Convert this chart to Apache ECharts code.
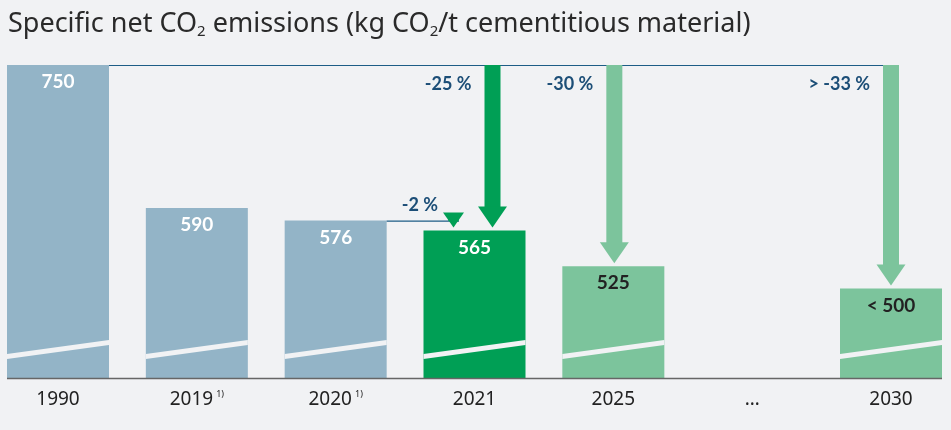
<!DOCTYPE html>
<html>
<head>
<meta charset="utf-8">
<script src="https://cdn.jsdelivr.net/npm/echarts@6/dist/echarts.min.js"></script>
<style>
  html, body { margin: 0; padding: 0; background: #f1f2f4; }
  #chart { width: 951px; height: 430px; }
</style>
</head>
<body>
<div id="chart"></div>
<script>
// Specific net CO2 emissions per tonne of cementitious material
const categories = ['1990', '2019', '2020', '2021', '2025', '…', '2030'];
const footnotes = ['', '1)', '1)', '', '', '', ''];
const values = [750, 590, 576, 565, 525, null, 500];
const valueLabels = ['750', '590', '576', '565', '525', '', '< 500'];

// reduction arrows: category, start value, end value, label
const arrowCats = [3, 3, 4, 6];
const arrowFrom = [576, 750, 750, 750];
const arrowTo = [565, 565, 525, 500];
const arrowLabels = ['-2 %', '-25 %', '-30 %', '> -33 %'];

const yMin = 400;
const yMax = 750;

const bg = '#f1f2f4';
const barColors = ['#93b4c7', '#93b4c7', '#93b4c7', '#009f55', '#7cc49c', null, '#7cc49c'];
const barLabelColors = ['#fff', '#fff', '#fff', '#fff', '#222', null, '#222'];
const arrowColors = ['#009f55', '#009f55', '#7cc49c', '#7cc49c'];
const arrowOffsets = [-21, 18, 1, 0];
const arrowSmall = [true, false, false, false];
const lineColor = '#1d5d86';
const pctColor = '#1c4e77';
const textFont = '"Noto Sans", sans-serif';
const barW = 102;

const chart = echarts.init(document.getElementById('chart'));

const barData = [];
values.forEach((v, i) => { if (v != null) barData.push([i, v]); });

function renderBar(params, api) {
  const i = api.value(0);
  const top = api.coord([i, api.value(1)]);
  const base = api.coord([i, yMin]);
  const x0 = top[0] - barW / 2;
  const b = base[1];
  return {
    type: 'group',
    children: [
      { type: 'rect', shape: { x: x0, y: top[1], width: barW, height: b - top[1] },
        style: { fill: barColors[i] } },
      { type: 'polygon', shape: { points: [[x0, b - 24], [x0 + barW, b - 38], [x0 + barW, b - 33], [x0, b - 19]] },
        style: { fill: bg } },
      { type: 'text', x: top[0], y: top[1] + 17,
        style: { text: valueLabels[i], fill: barLabelColors[i], align: 'center', verticalAlign: 'middle',
          font: 'bold 19px Lato' } }
    ]
  };
}

function renderArrow(params, api) {
  const k = params.dataIndex;
  const i = api.value(0);
  const start = api.coord([i, api.value(1)]);
  const end = api.coord([i, api.value(2)]);
  const cx = start[0] + arrowOffsets[k];
  const small = arrowSmall[k];
  const shaft = small ? 11 : 16;
  const head = small ? 21 : 29;
  const headLen = small ? 15 : 21;
  const tip = end[1] - 3;
  const col = arrowColors[k];
  return {
    type: 'group',
    children: [
      { type: 'rect', shape: { x: cx - shaft / 2, y: start[1], width: shaft, height: tip - headLen - start[1] + 1 },
        style: { fill: col } },
      { type: 'polygon', shape: { points: [[cx - head / 2, tip - headLen], [cx + head / 2, tip - headLen], [cx, tip]] },
        style: { fill: col } },
      { type: 'text', x: cx - shaft / 2 - (small ? 10 : 13), y: small ? start[1] - 15 : start[1] + 19,
        style: { text: arrowLabels[k], fill: pctColor, align: 'right', verticalAlign: 'middle',
          font: 'bold 18px Lato' } }
    ]
  };
}

// baseline and reference lines
function renderFrame(params, api) {
  const last = categories.length - 1;
  const b0 = api.coord([0, yMin]);
  const b1 = api.coord([last, yMin]);
  const r0 = api.coord([0, values[0]]);
  const r1 = api.coord([last, values[0]]);
  const s0 = api.coord([2, values[2]]);
  const s1 = api.coord([3, values[2]]);
  return {
    type: 'group',
    children: [
      { type: 'line', shape: { x1: b0[0] - barW / 2, y1: b0[1] + 0.5, x2: b1[0] + barW / 2, y2: b1[1] + 0.5 },
        style: { stroke: '#666', lineWidth: 1.5 } },
      { type: 'line', shape: { x1: r0[0] + barW / 2, y1: r0[1] + 0.5, x2: r1[0] + 8, y2: r1[1] + 0.5 },
        style: { stroke: lineColor, lineWidth: 1.2 } },
      { type: 'line', shape: { x1: s0[0] + barW / 2, y1: s0[1] + 0.5, x2: s1[0] + arrowOffsets[0] + 5.5, y2: s1[1] + 0.5 },
        style: { stroke: lineColor, lineWidth: 1.2 } }
    ]
  };
}

const option = {
  backgroundColor: bg,
  animation: false,
  title: {
    text: 'Specific net CO{sub|2} emissions (kg CO{sub|2}/t cementitious material)',
    left: 3,
    top: 4,
    textStyle: {
      fontFamily: textFont,
      fontSize: 27,
      fontWeight: 'normal',
      color: '#2a2a2a',
      rich: {
        sub: { fontFamily: textFont, fontSize: 15, color: '#2a2a2a', verticalAlign: 'top', padding: [15, 0, 0, 0] }
      }
    }
  },
  grid: { left: 58, right: 60, top: 65, bottom: 52 },
  xAxis: {
    type: 'category',
    data: categories,
    boundaryGap: false,
    axisLine: { show: false },
    axisTick: { show: false },
    axisLabel: {
      interval: 0,
      margin: 12,
      fontFamily: textFont,
      fontSize: 19,
      color: '#222',
      formatter: function (val, idx) {
        return footnotes[idx] ? val + '{sup|' + footnotes[idx] + '}' : val;
      },
      rich: {
        sup: { fontFamily: textFont, fontSize: 9, color: '#222', padding: [0, 0, 10, 3] }
      }
    }
  },
  yAxis: { type: 'value', min: yMin, max: yMax, show: false, splitLine: { show: false } },
  series: [
    { type: 'custom', name: 'bars', renderItem: renderBar, data: barData, encode: { x: 0, y: 1 } },
    { type: 'custom', name: 'frame', renderItem: renderFrame, data: [[0, yMin]], encode: { x: 0, y: 1 }, z: 3 },
    { type: 'custom', name: 'arrows', renderItem: renderArrow, z: 4,
      data: arrowCats.map((c, k) => [c, arrowFrom[k], arrowTo[k]]), encode: { x: 0, y: [1, 2] } }
  ]
};

chart.setOption(option);
</script>
</body>
</html>
